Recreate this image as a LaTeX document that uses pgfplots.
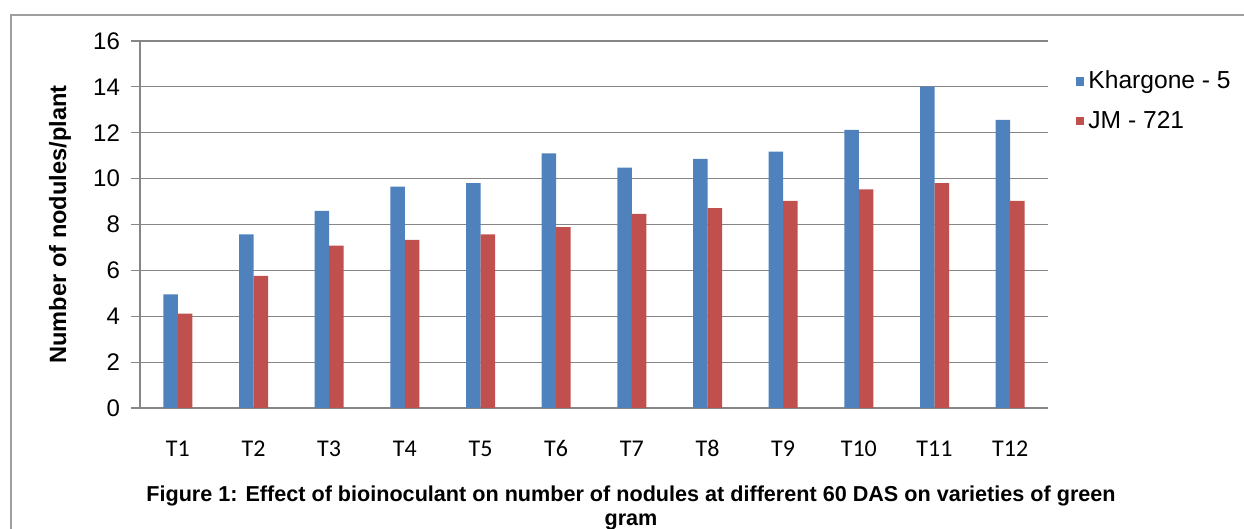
\documentclass[border=0pt]{standalone}
\usepackage{pgfplots}
\pgfplotsset{compat=1.18}
\usepackage{fontspec}
\setmainfont{Liberation Sans}
\newfontfamily\calibri{Carlito}

\definecolor{kblue}{HTML}{4F81BD}
\definecolor{jred}{HTML}{C0504D}
\definecolor{gridgray}{HTML}{868686}

\begin{document}
\begin{tikzpicture}
\useasboundingbox (0pt,0pt) rectangle (622pt,-264.5pt);
\draw[gridgray!80, line width=0.6pt] (5.5pt,-400pt) -- (5.5pt,-7.5pt) -- (800pt,-7.5pt);
\begin{axis}[
    at={(70pt,-204pt)}, anchor=south west,
    scale only axis,
    width=454pt, height=183.5pt,
    ybar=0pt,
    bar width=7.25pt,
    xmin=0.5, xmax=12.5,
    ymin=0, ymax=16,
    xtick={1,...,12},
    xticklabels={T1,T2,T3,T4,T5,T6,T7,T8,T9,T10,T11,T12},
    ytick={0,2,...,16},
    major x tick style={draw=none},
    ytick style={gridgray, line width=0.6pt},
    tick align=outside,
    major tick length=4.5pt,
    ymajorgrids=true,
    grid style={gridgray, line width=0.6pt},
    axis x line*=bottom,
    axis y line*=left,
    axis line style={gridgray, line width=0.6pt, -},
    x tick label style={font=\calibri\fontsize{12}{14}\selectfont, text height=8pt, text depth=0pt, yshift=-8pt},
    y tick label style={font=\fontsize{12}{14}\selectfont, xshift=-2pt},
    /pgf/number format/assume math mode=true,
    ylabel={\bfseries Number of nodules/plant},
    ylabel style={at={(axis description cs:-0.088,0.5)}, anchor=center, font=\fontsize{11.8}{13}\selectfont},
    legend style={at={(axis description cs:1.03,0.93)}, anchor=north west, draw=none, fill=none,
        font=\fontsize{12.3}{14}\selectfont, row sep=5.5pt, inner sep=0pt,
        /tikz/every even column/.append style={column sep=1pt}},
    legend cell align=left,
    legend image code/.code={\fill[#1] (0pt,-2.2pt) rectangle (4.4pt,2.2pt);},
]
\addplot[fill=kblue, draw=none] coordinates {
    (1,4.95) (2,7.57) (3,8.59) (4,9.65) (5,9.80) (6,11.1)
    (7,10.48) (8,10.86) (9,11.18) (10,12.12) (11,14.01) (12,12.56)
};
\addplot[fill=jred, draw=none] coordinates {
    (1,4.11) (2,5.76) (3,7.08) (4,7.33) (5,7.57) (6,7.89)
    (7,8.46) (8,8.71) (9,9.03) (10,9.53) (11,9.80) (12,9.03)
};
\legend{Khargone - 5, JM - 721}
\end{axis}
\node[font=\bfseries\fontsize{10.8}{12}\selectfont, align=center] at (315.5pt,-254pt)
    {Figure 1: Effect of bioinoculant on number of nodules at different 60 DAS on varieties of green\\gram};
\end{tikzpicture}
\end{document}
